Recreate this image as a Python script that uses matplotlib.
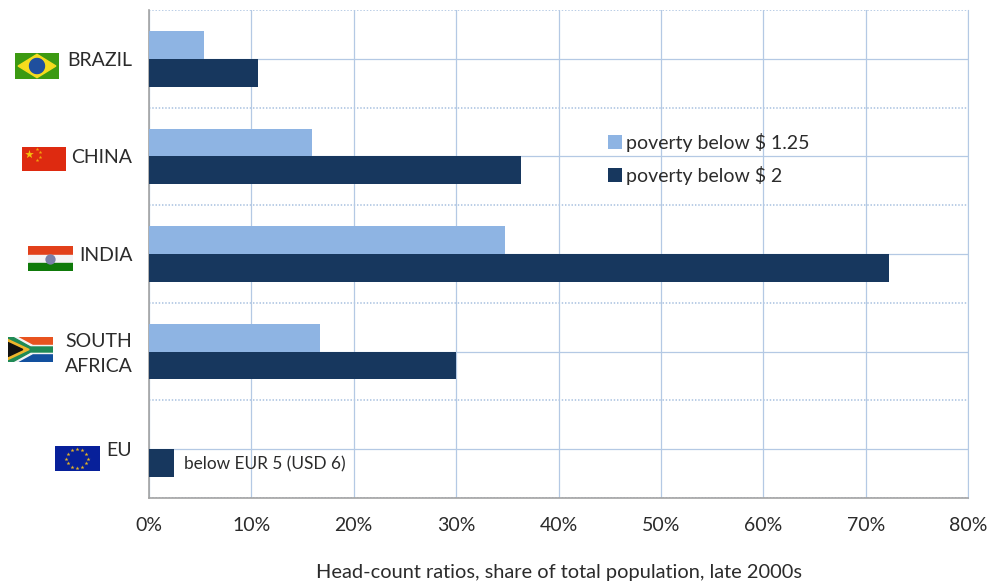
import numpy as np
import matplotlib
matplotlib.use('Agg')
import matplotlib.pyplot as plt
from matplotlib.patches import Rectangle, Polygon
from matplotlib.transforms import ScaledTranslation

plt.rcParams['font.family'] = ['Lato', 'DejaVu Sans']

countries = ['BRAZIL', 'CHINA', 'INDIA', 'SOUTH\nAFRICA', 'EU']
below_125 = [5.4, 15.9, 34.8, 16.7, 0]
below_2 = [10.6, 36.3, 72.3, 30.0, 2.4]
xticks = [0, 10, 20, 30, 40, 50, 60, 70, 80]
label_125 = 'poverty below $ 1.25'
label_2 = 'poverty below $ 2'
eu_note = 'below EUR 5 (USD 6)'
xlabel = 'Head-count ratios, share of total population, late 2000s'

W, H = 990, 584
LIGHT = '#8eb4e3'
DARK = '#17375e'
GRID = '#b4c9e4'
TEXT = '#2b2b2b'
FS = 14


def flag_axes(fig, x0, y0, x1, y1):
    a = fig.add_axes([x0 / W, 1 - y1 / H, (x1 - x0) / W, (y1 - y0) / H])
    a.set_xlim(0, 1)
    a.set_ylim(0, 1)
    a.axis('off')
    return a


def draw_brazil(a):
    a.add_patch(Rectangle((0, 0), 1, 1, color='#3c9a12'))
    a.add_patch(Polygon([(0.07, 0.5), (0.5, 0.95), (0.93, 0.5), (0.5, 0.05)], color='#f5dc1e'))
    t = np.linspace(0, 2 * np.pi, 40)
    a.fill(0.5 + 0.17 * np.cos(t), 0.5 + 0.29 * np.sin(t), color='#1f4f9e')


def draw_china(a):
    a.add_patch(Rectangle((0, 0), 1, 1, color='#de2a10'))
    a.scatter([0.17], [0.72], marker='*', s=42, color='#f4c20d', linewidths=0)
    a.scatter([0.33, 0.42, 0.42, 0.33], [0.92, 0.78, 0.6, 0.46], marker='*', s=8, color='#f4a30d', linewidths=0)


def draw_india(a):
    a.add_patch(Rectangle((0, 0.66), 1, 0.34, color='#e2401a'))
    a.add_patch(Rectangle((0, 0.33), 1, 0.33, color='#f4f2f4'))
    a.add_patch(Rectangle((0, 0), 1, 0.33, color='#0f7a0a'))
    a.scatter([0.49], [0.5], s=55, color='#7a7fa8', linewidths=0)


def draw_south_africa(a):
    a.add_patch(Rectangle((0, 0.5), 1, 0.5, color='#e8531f'))
    a.add_patch(Rectangle((0, 0), 1, 0.5, color='#12509e'))
    a.add_patch(Polygon([(0, 1), (0.2, 1), (0.55, 0.66), (1, 0.66), (1, 0.34), (0.55, 0.34), (0.2, 0), (0, 0)], color='#f4f4f4'))
    a.add_patch(Polygon([(0, 1), (0.1, 1), (0.5, 0.6), (1, 0.6), (1, 0.4), (0.5, 0.4), (0.1, 0), (0, 0)], color='#1f8a55'))
    a.add_patch(Polygon([(0, 0.9), (0.47, 0.5), (0, 0.1)], color='#eeb62c'))
    a.add_patch(Polygon([(0, 0.78), (0.33, 0.5), (0, 0.22)], color='#111111'))


def draw_eu(a):
    a.add_patch(Rectangle((0, 0), 1, 1, color='#07209a'))
    ang = np.arange(12) * np.pi / 6
    a.scatter(0.49 + 0.24 * np.cos(ang), 0.5 + 0.38 * np.sin(ang), marker='*', s=9, color='#e6b422', linewidths=0)


fig = plt.figure(figsize=(W / 100, H / 100), dpi=100)
ax = fig.add_axes([149 / W, 1 - 498 / H, (968 - 149) / W, (498 - 10) / H])

y = np.arange(len(countries))
bar_h = 0.285
ax.barh(y - bar_h / 2, below_125, height=bar_h, color=LIGHT, label=label_125, zorder=3)
ax.barh(y + bar_h / 2, below_2, height=bar_h, color=DARK, label=label_2, zorder=3)

ax.set_xlim(0, 80)
ax.set_ylim(len(countries) - 0.5, -0.5)
ax.set_xticks(xticks)
ax.set_xticklabels([str(v) + '%' for v in xticks], fontsize=FS, color=TEXT)
ax.set_yticks(y)
ax.set_yticklabels(countries, fontsize=FS, color=TEXT, ha='right', linespacing=1.6)
ax.set_yticks(np.arange(-0.5, len(countries)), minor=True)
ax.tick_params(axis='y', which='both', length=0, pad=12)
ax.tick_params(axis='x', length=0, pad=14)
ax.grid(True, which='major', color=GRID, linewidth=0.9, zorder=1)
ax.grid(True, which='minor', axis='y', color=GRID, linewidth=1.3, linestyle=(0, (0.8, 1.0)), zorder=1)
ax.set_axisbelow(True)

# two-line label sits a bit high in the original
sa = ax.get_yticklabels()[3]
sa.set_transform(sa.get_transform() + ScaledTranslation(0, 3 / 100, fig.dpi_scale_trans))

ax.spines['top'].set_visible(False)
ax.spines['right'].set_color(GRID)
ax.spines['left'].set_color('#a3a3a3')
ax.spines['bottom'].set_color('#a3a3a3')
ax.spines['left'].set_linewidth(1.2)
ax.spines['bottom'].set_linewidth(1.2)

ax.text(below_2[4] + 1.0, y[4] + bar_h / 2 + 0.015, eu_note, fontsize=12.4, color=TEXT, va='center', ha='left', zorder=4)
ax.set_xlabel(xlabel, fontsize=14.4, color=TEXT, labelpad=21)

ax.legend(loc='upper left', bbox_to_anchor=(602 / W, 1 - 127 / H), bbox_transform=fig.transFigure,
          frameon=False, fontsize=FS, handlelength=0.72, handleheight=0.72, handletextpad=0.2,
          labelspacing=0.72, borderpad=0.3, borderaxespad=0, labelcolor=TEXT)

draw_brazil(flag_axes(fig, 15, 53, 59, 79))
draw_china(flag_axes(fig, 22, 147, 66, 171))
draw_india(flag_axes(fig, 28, 246, 73, 271))
draw_south_africa(flag_axes(fig, 8, 337, 53, 362))
draw_eu(flag_axes(fig, 55, 446, 100, 471))

plt.savefig('out.png', dpi=100)
